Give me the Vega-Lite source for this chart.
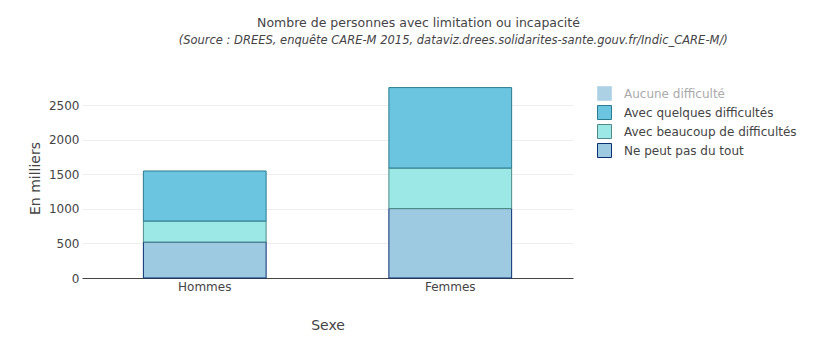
{
  "$schema": "https://vega.github.io/schema/vega-lite/v6.json",
  "width": 491,
  "height": 200,
  "autosize": {"type": "none"},
  "padding": {"left": 82, "top": 78, "right": 263, "bottom": 75},
  "background": "white",
  "title": {
    "text": "Nombre de personnes avec limitation ou incapacité",
    "subtitle": "\u200b\u00a0\u00a0\u00a0\u00a0\u00a0\u00a0\u00a0\u00a0\u00a0\u00a0\u00a0\u00a0\u00a0\u00a0\u00a0\u00a0\u00a0\u00a0\u00a0(Source : DREES, enquête CARE-M 2015, dataviz.drees.solidarites-sante.gouv.fr/Indic_CARE-M/)",
    "anchor": "middle",
    "dx": 91,
    "font": "DejaVu Sans",
    "fontSize": 12.5,
    "fontWeight": "normal",
    "color": "#444",
    "subtitleFont": "DejaVu Sans",
    "subtitleFontSize": 11.5,
    "subtitleFontStyle": "italic",
    "subtitleColor": "#444",
    "subtitlePadding": 5,
    "offset": 32
  },
  "data": {
    "values": [
      {"sexe": "Hommes", "cat": "Ne peut pas du tout", "value": 521, "ord": 1},
      {"sexe": "Hommes", "cat": "Avec beaucoup de difficultés", "value": 304, "ord": 2},
      {"sexe": "Hommes", "cat": "Avec quelques difficultés", "value": 724, "ord": 3},
      {"sexe": "Femmes", "cat": "Ne peut pas du tout", "value": 1005, "ord": 1},
      {"sexe": "Femmes", "cat": "Avec beaucoup de difficultés", "value": 587, "ord": 2},
      {"sexe": "Femmes", "cat": "Avec quelques difficultés", "value": 1164, "ord": 3}
    ]
  },
  "mark": {"type": "bar", "strokeWidth": 1, "opacity": 1},
  "encoding": {
    "x": {
      "field": "sexe",
      "type": "nominal",
      "sort": ["Hommes", "Femmes"],
      "scale": {"paddingInner": 0.5, "paddingOuter": 0.25},
      "axis": {
        "title": "Sexe",
        "labelAngle": 0,
        "labelFont": "DejaVu Sans",
        "labelFontSize": 12,
        "labelColor": "#444",
        "labelPadding": 3,
        "ticks": false,
        "domainColor": "#444",
        "domainWidth": 1,
        "titleFont": "DejaVu Sans",
        "titleFontSize": 14,
        "titleFontWeight": "normal",
        "titleColor": "#444",
        "titlePadding": 26
      }
    },
    "y": {
      "field": "value",
      "type": "quantitative",
      "stack": "zero",
      "scale": {"domain": [0, 2895], "nice": false, "zero": true},
      "axis": {
        "title": "En milliers",
        "values": [0, 500, 1000, 1500, 2000, 2500],
        "format": "d",
        "labelFont": "DejaVu Sans",
        "labelFontSize": 12,
        "labelColor": "#444",
        "labelPadding": 3,
        "ticks": false,
        "domain": false,
        "gridColor": "#eeeeee",
        "gridWidth": 1,
        "titleFont": "DejaVu Sans",
        "titleFontSize": 14,
        "titleFontWeight": "normal",
        "titleColor": "#444",
        "titlePadding": 6
      }
    },
    "order": {"field": "ord", "type": "quantitative"},
    "color": {
      "field": "cat",
      "type": "nominal",
      "scale": {
        "domain": ["Aucune difficulté", "Avec quelques difficultés", "Avec beaucoup de difficultés", "Ne peut pas du tout"],
        "range": ["#9ecae1", "#6cc5e0", "#9ce8e7", "#9ecae1"]
      },
      "legend": {
        "title": null,
        "orient": "none",
        "legendX": 515,
        "legendY": 8,
        "padding": 0,
        "symbolType": "square",
        "symbolSize": 196,
        "symbolStrokeWidth": 1,
        "symbolOpacity": 1,
        "rowPadding": 0,
        "labelOffset": 12,
        "labelLimit": 300,
        "labelFont": "DejaVu Sans",
        "labelFontSize": 12,
        "labelColor": "#444",
        "encode": {
          "labels": {
            "update": {
              "fill": [
                {"test": "datum.label === 'Aucune difficulté'", "value": "#aaaaaa"},
                {"value": "#444444"}
              ]
            }
          },
          "symbols": {
            "update": {
              "opacity": [
                {"test": "datum.label === 'Aucune difficulté'", "value": 0.85},
                {"value": 1}
              ]
            }
          }
        }
      }
    },
    "stroke": {
      "field": "cat",
      "type": "nominal",
      "scale": {
        "domain": ["Aucune difficulté", "Avec quelques difficultés", "Avec beaucoup de difficultés", "Ne peut pas du tout"],
        "range": ["#b3d3e6", "#2b7b8e", "#4f8a88", "#0b2f72"]
      },
      "legend": {
        "title": null,
        "orient": "none",
        "legendX": 515,
        "legendY": 8,
        "padding": 0,
        "symbolType": "square",
        "symbolSize": 196,
        "rowPadding": 0,
        "labelOffset": 12,
        "labelLimit": 300,
        "labelFont": "DejaVu Sans",
        "labelFontSize": 12,
        "labelColor": "#444"
      }
    }
  },
  "config": {
    "view": {"stroke": null}
  }
}
